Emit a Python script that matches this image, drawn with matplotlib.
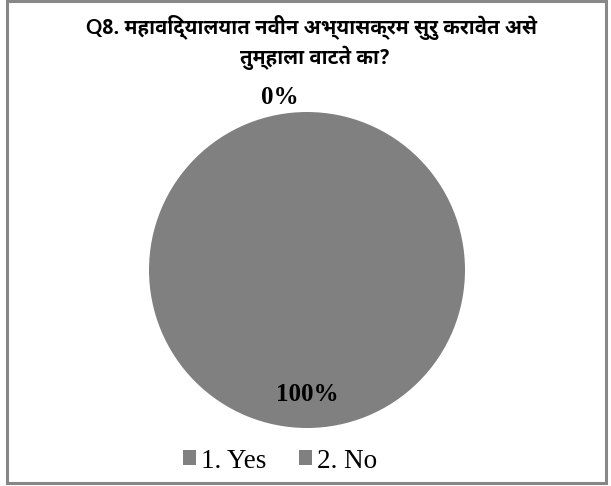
import matplotlib
matplotlib.use("Agg")
import matplotlib.pyplot as plt
from matplotlib.patches import Rectangle

categories = ["1. Yes", "2. No"]
values = [0, 100]
title_lines = ["Q8. महाविद्यालयात नवीन अभ्यासक्रम सुरु करावेत असे", "तुम्हाला वाटते का?"]
colors = ["#808080", "#808080"]

W, H = 611, 486
fig = plt.figure(figsize=(W / 100, H / 100), dpi=100)
fig.patch.set_facecolor("white")

# outer border
fig.patches.append(Rectangle((7 / W, 1 - 483 / H), (606 - 7) / W, (483 - 1) / H,
                             transform=fig.transFigure, fill=False,
                             edgecolor="#878787", linewidth=2.2, zorder=0))

# pie
cx, cy, r = 307, 270, 158
ax = fig.add_axes([(cx - r) / W, 1 - (cy + r) / H, 2 * r / W, 2 * r / H])
wedges, texts, autotexts = ax.pie(values, colors=colors, startangle=90, counterclock=False,
                                  autopct=lambda p: "%d%%" % round(p), pctdistance=0.79,
                                  wedgeprops=dict(linewidth=0))
ax.set_xlim(-1, 1)
ax.set_ylim(-1, 1)
ax.set_aspect("equal")
ax.axis("off")
for t in autotexts:
    t.set_fontfamily("Liberation Serif")
    t.set_fontweight("bold")
    t.set_fontsize(18)
    t.set_color("black")
autotexts[0].set_position((-0.17, 1.09))

# title
tfam = ["Noto Sans Devanagari UI", "Lato", "DejaVu Sans"]
fig.text(312 / W, 1 - 27 / H, title_lines[0], ha="center", va="center",
         fontsize=14.5, fontweight="bold", family=tfam)
fig.text(315 / W, 1 - 58 / H, title_lines[1], ha="center", va="center",
         fontsize=14.5, fontweight="bold", family=tfam)

# legend
leg = fig.legend(wedges, categories, loc="center", bbox_to_anchor=(280 / W, 1 - 461 / H),
                 ncol=2, frameon=False, prop=dict(family="Liberation Serif", size=19.5),
                 handlelength=0.48, handleheight=0.48, handletextpad=0.2, columnspacing=1.2,
                 borderpad=0, borderaxespad=0)

fig.savefig("out.png", dpi=100)
